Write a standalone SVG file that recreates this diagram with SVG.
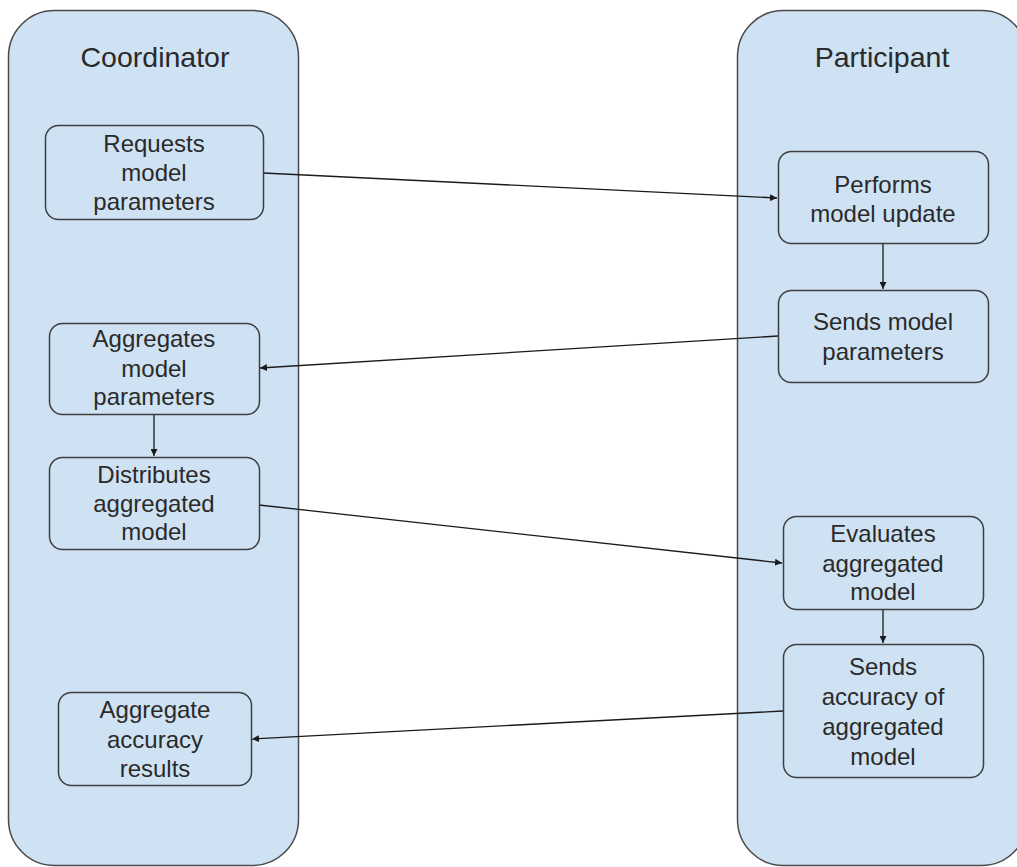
<svg xmlns="http://www.w3.org/2000/svg" width="1017" height="867" viewBox="0 0 1017 867">
  <style>
    .lane { fill: #cfe2f3; stroke: #4a4a4a; stroke-width: 1.5; }
    .box { fill: #cfe2f3; stroke: #3f3f3f; stroke-width: 1.5; }
    .title { font-family: "Liberation Sans", Arial, sans-serif; font-size: 28.5px; fill: #2a2a2a; text-anchor: middle; }
    .label { font-family: "Liberation Sans", Arial, sans-serif; font-size: 24px; fill: #2a2a2a; text-anchor: middle; }
    .edge { fill: none; stroke: #1a1a1a; stroke-width: 1.3; marker-end: url(#arrow); }
  </style>
  <defs>
    <marker id="arrow" viewBox="0 0 10 10" refX="10" refY="5" markerWidth="7" markerHeight="7" markerUnits="userSpaceOnUse" orient="auto">
      <path d="M0,0 L10,5 L0,10 z" fill="#1a1a1a"/>
    </marker>
  </defs>
  <rect width="1017" height="867" fill="#ffffff"/>

  <!-- swimlanes -->
  <g id="lane-coordinator">
    <rect class="lane" x="8.5" y="10.5" width="290" height="855" rx="46" ry="46"/>
    <text class="title" x="155" y="67">Coordinator</text>
  </g>
  <g id="lane-participant">
    <rect class="lane" x="737.5" y="10.5" width="290" height="855" rx="46" ry="46"/>
    <text class="title" x="882" y="67">Participant</text>
  </g>

  <!-- connectors -->
  <g id="connectors">
    <line class="edge" x1="263" y1="173" x2="777" y2="198"/>
    <line class="edge" x1="883" y1="243" x2="883" y2="289"/>
    <line class="edge" x1="778" y1="336" x2="260" y2="368"/>
    <line class="edge" x1="154" y1="414" x2="154" y2="456"/>
    <line class="edge" x1="259" y1="505" x2="782" y2="563"/>
    <line class="edge" x1="883" y1="609" x2="883" y2="643"/>
    <line class="edge" x1="783" y1="711" x2="252" y2="739"/>
  </g>

  <!-- coordinator steps -->
  <g id="node-requests">
    <rect class="box" x="45.5" y="125.5" width="218" height="94" rx="13"/>
    <text class="label" x="154" y="152">Requests</text>
    <text class="label" x="154" y="181">model</text>
    <text class="label" x="154" y="210">parameters</text>
  </g>
  <g id="node-aggregates">
    <rect class="box" x="49.5" y="323.5" width="210" height="91" rx="13"/>
    <text class="label" x="154" y="347">Aggregates</text>
    <text class="label" x="154" y="377">model</text>
    <text class="label" x="154" y="405">parameters</text>
  </g>
  <g id="node-distributes">
    <rect class="box" x="49.5" y="457.5" width="210" height="92" rx="13"/>
    <text class="label" x="154" y="483">Distributes</text>
    <text class="label" x="154" y="512">aggregated</text>
    <text class="label" x="154" y="540">model</text>
  </g>
  <g id="node-aggregate-accuracy">
    <rect class="box" x="58.5" y="692.5" width="193" height="93" rx="13"/>
    <text class="label" x="155" y="718">Aggregate</text>
    <text class="label" x="155" y="748">accuracy</text>
    <text class="label" x="155" y="777">results</text>
  </g>

  <!-- participant steps -->
  <g id="node-performs">
    <rect class="box" x="778.5" y="151.5" width="210" height="92" rx="13"/>
    <text class="label" x="883" y="193">Performs</text>
    <text class="label" x="883" y="222">model update</text>
  </g>
  <g id="node-sends-params">
    <rect class="box" x="778.5" y="290.5" width="210" height="92" rx="13"/>
    <text class="label" x="883" y="330">Sends model</text>
    <text class="label" x="883" y="360">parameters</text>
  </g>
  <g id="node-evaluates">
    <rect class="box" x="783.5" y="516.5" width="200" height="93" rx="13"/>
    <text class="label" x="883" y="542">Evaluates</text>
    <text class="label" x="883" y="572">aggregated</text>
    <text class="label" x="883" y="600">model</text>
  </g>
  <g id="node-sends-accuracy">
    <rect class="box" x="783.5" y="644.5" width="200" height="133" rx="13"/>
    <text class="label" x="883" y="675">Sends</text>
    <text class="label" x="883" y="705">accuracy of</text>
    <text class="label" x="883" y="735">aggregated</text>
    <text class="label" x="883" y="765">model</text>
  </g>
</svg>
